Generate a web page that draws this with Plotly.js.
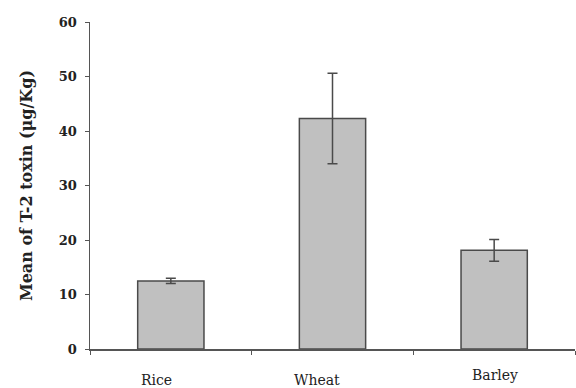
<!DOCTYPE html>
<html>
<head>
<meta charset="utf-8">
<script src="https://cdn.plot.ly/plotly-3.0.1.min.js"></script>
<style>html,body{margin:0;padding:0;background:#fff;}#chart{width:576px;height:388px;}</style>
</head>
<body>
<div id="chart"></div>
<script>
const categories = ["Rice", "Wheat", "Barley"];
const means = [12.5, 42.3, 18.1];
const errors = [0.5, 8.3, 2.0];
const yTicks = [0, 10, 20, 30, 40, 50, 60];
const labelShift = [-14, -16, 1];
const labelY = [-0.064, -0.064, -0.05];

const axisColor = "#555555";
const fontFam = "'DejaVu Serif', 'Liberation Serif', serif";

const trace = {
  type: "bar",
  x: categories,
  y: means,
  width: 0.41,
  marker: {color: "#c0c0c0", line: {color: "#4a4a4a", width: 1.5}},
  error_y: {type: "data", array: errors, visible: true, color: "#4a4a4a", thickness: 1.5, width: 5}
};

const annotations = categories.map((c, i) => ({
  x: c, xref: "x", y: labelY[i], yref: "paper", yanchor: "top",
  xshift: labelShift[i], text: c, showarrow: false,
  font: {family: fontFam, size: 14, color: "#222"}
}));

const layout = {
  width: 576, height: 388,
  margin: {l: 90, r: 1, t: 22, b: 39, pad: 0},
  paper_bgcolor: "#fff", plot_bgcolor: "#fff",
  showlegend: false,
  xaxis: {
    type: "category", range: [-0.5, 2.5],
    showticklabels: false,
    showline: true, linecolor: axisColor, linewidth: 1.5,
    ticks: "outside", tickson: "boundaries", ticklen: 4, tickcolor: axisColor,
    showgrid: false, zeroline: false
  },
  yaxis: {
    range: [0, 60], tickvals: yTicks, ticktext: yTicks.map(String),
    showline: true, linecolor: axisColor, linewidth: 1.5,
    ticks: "outside", ticklen: 4, tickcolor: axisColor,
    ticklabelstandoff: 5,
    showgrid: false, zeroline: false,
    tickfont: {family: fontFam, size: 13, color: "#222", weight: "bold"},
    title: {text: "Mean of T-2 toxin (μg/Kg)", standoff: 22,
      font: {family: fontFam, size: 16, color: "#222", weight: "bold"}}
  },
  annotations: annotations
};

Plotly.newPlot("chart", [trace], layout, {staticPlot: true, displayModeBar: false});
</script>
</body>
</html>
